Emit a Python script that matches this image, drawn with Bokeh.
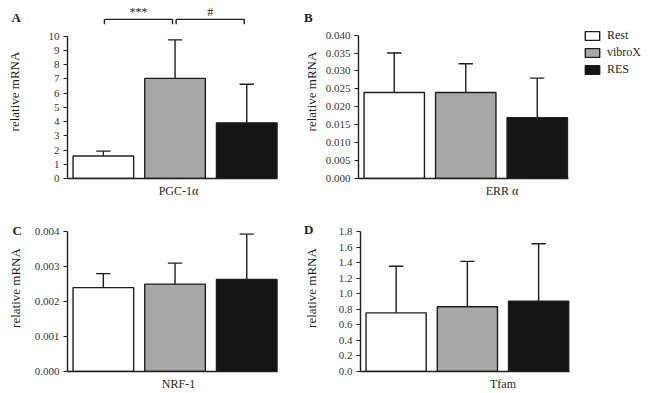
from bokeh.plotting import figure
from bokeh.layouts import column, row
from bokeh.models import Range1d, FixedTicker, Label, Legend, LegendItem, PrintfTickFormatter
from bokeh.core.properties import value
from bokeh.embed import file_html
from bokeh.resources import INLINE

# ---- data -------------------------------------------------------------
groups = ["Rest", "vibroX", "RES"]
group_colors = ["#ffffff", "#a8a8a8", "#151515"]

pgc_mean = [1.58, 7.03, 3.91]
pgc_err = [0.34, 2.71, 2.71]
pgc_ticks = [0, 1, 2, 3, 4, 5, 6, 7, 8, 9, 10]

err_mean = [0.024, 0.024, 0.017]
err_err = [0.011, 0.008, 0.011]
err_ticks = [0.0, 0.005, 0.010, 0.015, 0.020, 0.025, 0.030, 0.035, 0.040]

nrf_mean = [0.0024, 0.0025, 0.00263]
nrf_err = [0.0004, 0.0006, 0.0013]
nrf_ticks = [0.0, 0.001, 0.002, 0.003, 0.004]

tfam_mean = [0.755, 0.833, 0.905]
tfam_err = [0.60, 0.585, 0.74]
tfam_ticks = [0.0, 0.2, 0.4, 0.6, 0.8, 1.0, 1.2, 1.4, 1.6, 1.8]

# significance brackets for PGC-1alpha: (group a, group b, mark)
pgc_comparisons = [(0, 1, "***"), (1, 2, "#")]

FONT = "Liberation Serif"
INK = "#1e1e1e"
BAR_W = 0.845
FRAME_TOP = 4
BORDER_RIGHT = 11   # room for the panel letter, which lives in the right side panel


def panel(letter, gene, means, errs, ticks, decimals, width, height,
          axis_x, axis_bottom, axis_top, px_per_cat, ylabel_standoff,
          letter_px, comparisons=None, legend_at=None):
    px_per_unit = (axis_bottom - axis_top) / ticks[-1]
    y_end = (axis_bottom - FRAME_TOP) / px_per_unit
    x_start = -0.5
    x_end = x_start + (width - axis_x - BORDER_RIGHT) / px_per_cat

    p = figure(width=width, height=height,
               x_range=Range1d(x_start, x_end), y_range=Range1d(0, y_end),
               output_backend="svg", toolbar_location=None,
               min_border_left=axis_x, min_border_right=BORDER_RIGHT,
               min_border_top=FRAME_TOP, min_border_bottom=height - axis_bottom)
    p.outline_line_color = None
    p.grid.visible = False
    p.background_fill_color = "white"
    p.border_fill_color = "white"

    # bars, one renderer per condition
    renderers = []
    for i, (m, c) in enumerate(zip(means, group_colors)):
        r = p.vbar(x=[i], top=[m], width=BAR_W, bottom=0,
                   fill_color=c, line_color=INK, line_width=1.4)
        renderers.append(r)

    # one-sided error bars
    xs = list(range(len(means)))
    tops = [m + e for m, e in zip(means, errs)]
    p.segment(x0=xs, y0=means, x1=xs, y1=tops, line_color=INK, line_width=1.4)
    p.segment(x0=[x - 0.1 for x in xs], y0=tops, x1=[x + 0.1 for x in xs], y1=tops,
              line_color=INK, line_width=1.4)

    # y axis
    ya = p.yaxis[0]
    ya.ticker = FixedTicker(ticks=ticks)
    ya.formatter = PrintfTickFormatter(format="%%.%df" % decimals)
    ya.bounds = (0, ticks[-1])
    ya.major_tick_out = 4
    ya.major_tick_in = 0
    ya.minor_tick_line_color = None
    ya.axis_line_color = INK
    ya.axis_line_width = 1.4
    ya.major_tick_line_color = INK
    ya.major_tick_line_width = 1.2
    ya.major_label_standoff = 4
    ya.major_label_text_font = FONT
    ya.major_label_text_font_size = "11px"
    ya.major_label_text_color = "#333333"
    ya.axis_label = "relative mRNA"
    ya.axis_label_text_font = FONT
    ya.axis_label_text_font_size = "13px"
    ya.axis_label_text_font_style = "normal"
    ya.axis_label_text_color = INK
    ya.axis_label_standoff = ylabel_standoff

    # x axis: gene name only
    xa = p.xaxis[0]
    xa.ticker = FixedTicker(ticks=[])
    xa.bounds = (x_start, len(means) - 1 + BAR_W / 2 + 0.01)
    xa.major_tick_line_color = None
    xa.minor_tick_line_color = None
    xa.axis_line_color = INK
    xa.axis_line_width = 1.4
    xa.axis_label = gene
    xa.axis_label_text_font = FONT
    xa.axis_label_text_font_size = "12px"
    xa.axis_label_text_font_style = "normal"
    xa.axis_label_text_color = INK
    xa.axis_label_standoff = 5

    # panel letter (side-panel annotations are not clipped to the frame)
    lx, ly = letter_px
    p.add_layout(Label(x=x_start + (lx - axis_x) / px_per_cat,
                       y=(axis_bottom - ly) / px_per_unit,
                       text=letter, text_font=FONT, text_font_style="bold",
                       text_font_size="13px", text_color=INK,
                       text_baseline="alphabetic", text_align="left"), "right")

    if comparisons:
        yb = (axis_bottom - 19) / px_per_unit
        yl = (axis_bottom - 24) / px_per_unit
        yt = (axis_bottom - 11.5) / px_per_unit
        for a, b, mark in comparisons:
            x0, x1 = a + 0.015, b - 0.035
            p.segment(x0=[x0, x0, x1], y0=[yb, yl, yl], x1=[x1, x0, x1], y1=[yb, yb, yb],
                      line_color=INK, line_width=1.4)
            p.text(x=[(x0 + x1) / 2], y=[yt], text=[mark], text_font=value(FONT),
                   text_font_size="12px", text_align="center", text_baseline="middle",
                   text_color=INK)

    if legend_at is not None:
        legend = Legend(items=[LegendItem(label=g, renderers=[r])
                               for g, r in zip(groups, renderers)],
                        location=legend_at, orientation="vertical",
                        padding=0, margin=0, spacing=2,
                        glyph_width=18, glyph_height=11, label_height=11,
                        label_standoff=6, label_text_font=FONT,
                        label_text_font_size="12px", label_text_color=INK,
                        border_line_color=None, background_fill_alpha=0)
        p.add_layout(legend)
    return p


pA = panel("A", "PGC-1\u03b1", pgc_mean, pgc_err, pgc_ticks, 0, 300, 200,
           67, 180, 36, 71.7, 24, (11, 17), comparisons=pgc_comparisons)
pB = panel("B", "ERR \u03b1", err_mean, err_err, err_ticks, 3, 356, 200,
           56, 180, 35, 72.0, 4, (1, 17), legend_at=(225, 101))
pC = panel("C", "NRF-1", nrf_mean, nrf_err, nrf_ticks, 3, 300, 193,
           67, 176, 32, 71.7, 9, (12, 31))
pD = panel("D", "Tfam", tfam_mean, tfam_err, tfam_ticks, 1, 356, 193,
           57, 176, 32, 72.0, 17, (0, 30))

layout = column(row(pA, pB), row(pC, pD))
open("out.html", "w").write(file_html(layout, INLINE))
